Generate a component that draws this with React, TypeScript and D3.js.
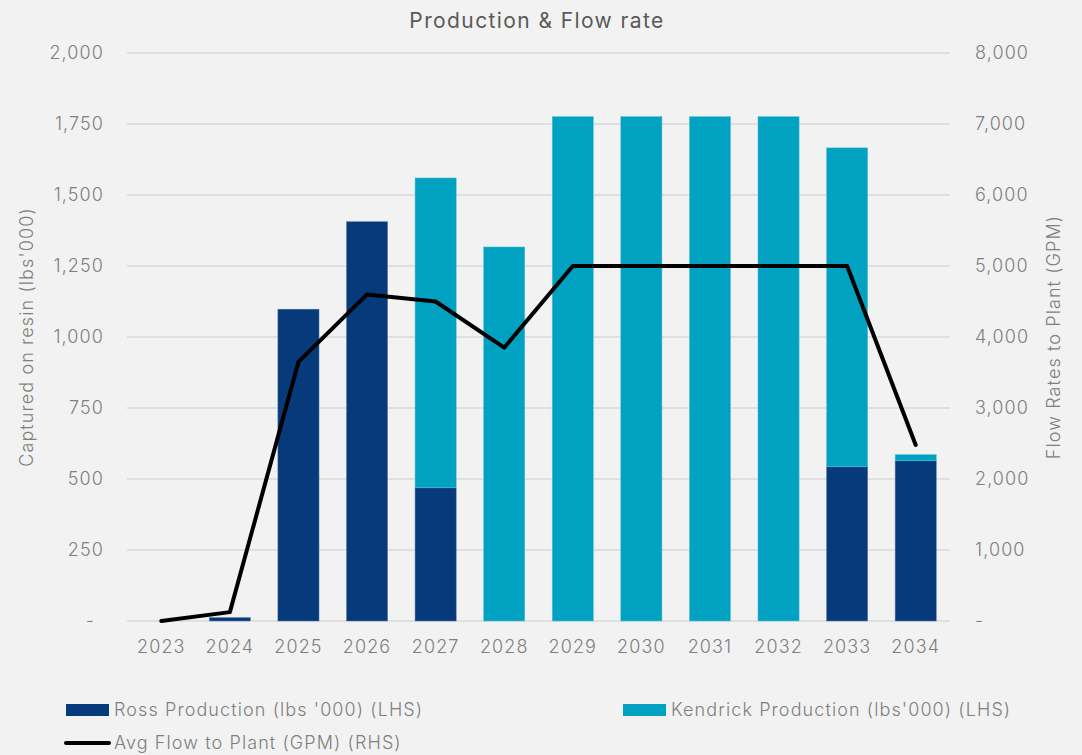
import React, { useEffect } from 'react';
import * as d3 from 'd3';

const years = ['2023', '2024', '2025', '2026', '2027', '2028', '2029', '2030', '2031', '2032', '2033', '2034'];
const rossProduction = [0, 12, 1098, 1406, 469, 0, 0, 0, 0, 0, 543, 564];
const kendrickProduction = [0, 0, 0, 0, 1091, 1317, 1776, 1776, 1776, 1776, 1123, 22];
const avgFlow = [0, 125, 3650, 4600, 4500, 3850, 5000, 5000, 5000, 5000, 5000, 2480];
const leftTicks = [0, 250, 500, 750, 1000, 1250, 1500, 1750, 2000];
const rightTicks = [0, 1000, 2000, 3000, 4000, 5000, 6000, 7000, 8000];

const W = 1082;
const H = 755;
const FONT = 'Inter, "Open Sans", sans-serif';
const ROSS = '#073a7b';
const KENDRICK = '#00a1c1';
const GREY = '#7f7f7f';

const App: React.FC = () => {
  useEffect(() => {
    document.body.style.margin = '0';
  }, []);

  const plot = { left: 127, right: 950, top: 53, bottom: 621 };

  const x = d3.scaleBand<string>()
    .domain(years)
    .range([plot.left, plot.right])
    .paddingInner(0.4)
    .paddingOuter(0.2);

  const yL = d3.scaleLinear().domain([0, 2000]).range([plot.bottom, plot.top]);
  const yR = d3.scaleLinear().domain([0, 8000]).range([plot.bottom, plot.top]);

  const fmt = d3.format(',');
  const tickText = (v: number) => (v === 0 ? '-' : fmt(v));

  const line = d3.line<number>()
    .x((_, i) => (x(years[i]) ?? 0) + x.bandwidth() / 2)
    .y(d => yR(d));

  // light grey label style, widened a touch to match the geometric face of the original
  const txt = { fontSize: 18, fontWeight: 300, fill: GREY, letterSpacing: 1.1 } as const;

  return (
    <svg width={W} height={H} style={{ display: 'block', background: '#f2f2f2', fontFamily: FONT }}>
      <rect width={W} height={H} fill="#f2f2f2" />
      <text x={537} y={28} textAnchor="middle" fontSize={21} fill="#595959" letterSpacing={1.4}>Production &amp; Flow rate</text>

      {leftTicks.map(t => (
        <line key={'g' + t} x1={plot.left} x2={plot.right} y1={yL(t)} y2={yL(t)} stroke="#d9d9d9" strokeWidth={1.3} />
      ))}

      {leftTicks.map(t => (
        <text key={'l' + t} x={t === 0 ? 95 : 104} y={yL(t)} dy="0.35em" textAnchor="end" {...txt}>{tickText(t)}</text>
      ))}
      {rightTicks.map(t => (
        <text key={'r' + t} x={975} y={yR(t)} dy="0.35em" textAnchor="start" {...txt}>{tickText(t)}</text>
      ))}

      <text transform={`translate(33,${(plot.top + plot.bottom) / 2}) rotate(-90)`} textAnchor="middle" {...txt}>Captured on resin (lbs'000)</text>
      <text transform={`translate(1060,${(plot.top + plot.bottom) / 2}) rotate(-90)`} textAnchor="middle" {...txt}>Flow Rates to Plant (GPM)</text>

      {years.map((yr, i) => {
        const bx = x(yr) ?? 0;
        const r = rossProduction[i];
        const k = kendrickProduction[i];
        return (
          <g key={yr}>
            {r > 0 && (
              <rect x={bx} y={yL(r)} width={x.bandwidth()} height={yL(0) - yL(r)} fill={ROSS} stroke="#5c7fae" strokeWidth={0.5} />
            )}
            {k > 0 && (
              <rect x={bx} y={yL(r + k)} width={x.bandwidth()} height={yL(r) - yL(r + k)} fill={KENDRICK} stroke="#5ec4d8" strokeWidth={0.5} />
            )}
            <text x={bx + x.bandwidth() / 2} y={647} dy="0.35em" textAnchor="middle" {...txt}>{yr}</text>
          </g>
        );
      })}

      <path d={line(avgFlow) ?? ''} fill="none" stroke="#000" strokeWidth={4} strokeLinejoin="round" strokeLinecap="round" />

      <rect x={66} y={704} width={43} height={12} fill={ROSS} />
      <text x={114} y={710} dy="0.35em" {...txt}>Ross Production (lbs '000) (LHS)</text>
      <rect x={623} y={704} width={43} height={12} fill={KENDRICK} />
      <text x={671} y={710} dy="0.35em" {...txt}>Kendrick Production (lbs'000) (LHS)</text>
      <line x1={66} x2={109} y1={743} y2={743} stroke="#000" strokeWidth={4} strokeLinecap="round" />
      <text x={114} y={743} dy="0.35em" {...txt}>Avg Flow to Plant (GPM) (RHS)</text>
    </svg>
  );
};

export default App;
